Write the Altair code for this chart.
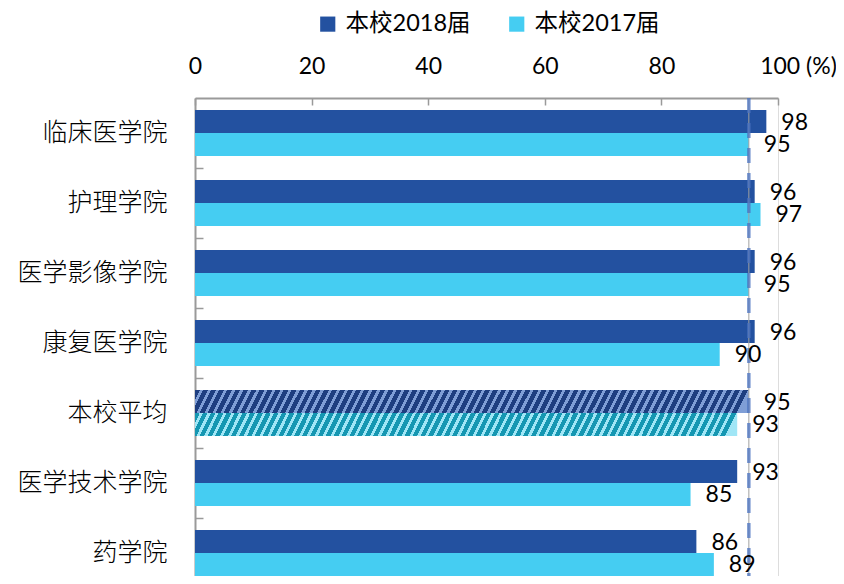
import altair as alt
import pandas as pd

categories = ["临床医学院", "护理学院", "医学影像学院", "康复医学院", "本校平均", "医学技术学院", "药学院"]
series = ["本校2018届", "本校2017届"]
v2018 = [98, 96, 96, 96, 95, 93, 86]
v2017 = [95, 97, 95, 90, 93, 85, 89]
avg_category = "本校平均"
x_ticks = [0, 20, 40, 60, 80, 100]

rows = []
for c, a, b in zip(categories, v2018, v2017):
    rows.append({"cat": c, "series": series[0], "value": a})
    rows.append({"cat": c, "series": series[1], "value": b})
df = pd.DataFrame(rows)

C18 = "#2351A0"
C17 = "#45CDF2"
GREY = "#9a9a9a"
NUM_FONT = "Lato, Noto Sans CJK SC"
CJK_FONT = "Noto Sans CJK SC"


def stripes(base, light, period_px=8.0, width_px=550.0, height_px=23.0, slant=0.5, frac=0.6):
    p = period_px / width_px
    stops = []
    k = 0
    while k * p < 1.0:
        a = k * p
        m = min((k + frac) * p, 1.0)
        e = min((k + 1) * p, 1.0)
        stops += [
            {"offset": round(a, 5), "color": base},
            {"offset": round(m, 5), "color": base},
            {"offset": round(m, 5), "color": light},
            {"offset": round(e, 5), "color": light},
        ]
        k += 1
    return {"gradient": "linear", "x1": 0, "y1": 0, "x2": 1,
            "y2": round(slant * height_px / width_px, 5), "stops": stops}


y_scale = alt.Scale(domain=categories, paddingInner=0.343, paddingOuter=0.1715)
yoff = alt.YOffset("series:N", scale=alt.Scale(domain=series, paddingInner=0, paddingOuter=0))
x_scale = alt.Scale(domain=[0, 100])

x_axis_main = alt.Axis(
    orient="top", values=x_ticks, ticks=False, grid=False, domain=True,
    domainColor=GREY, domainWidth=2, labelFont=NUM_FONT, labelFontSize=23,
    labelColor="#000000", labelPadding=20, labelFlush=False, title=None,
    labelExpr="datum.value == 100 ? datum.label + ' (%)' : datum.label",
    labelOffset={"condition": {"test": "datum.value == 100", "value": 20}, "value": 0},
)
x_axis_ticks = alt.Axis(
    orient="top", values=x_ticks, offset=-7, ticks=True, tickSize=7,
    tickColor=GREY, tickWidth=1.5, labels=False, domain=False, grid=False, title=None,
)
y_axis_main = alt.Axis(
    orient="left", ticks=False, domain=True, domainColor=GREY, domainWidth=2,
    labelFont=CJK_FONT, labelFontSize=25, labelFontWeight=300, labelColor="#000000",
    labelPadding=28, title=None, grid=False,
)
y_axis_ticks = alt.Axis(
    orient="left", offset=-8, ticks=True, tickSize=8, tickOffset=35,
    tickColor=GREY, tickWidth=1.5, labels=False, domain=False, grid=False, title=None,
)

base = alt.Chart(df)

bars = base.transform_filter(alt.datum.cat != avg_category).mark_bar().encode(
    x=alt.X("value:Q", scale=x_scale, axis=x_axis_main),
    y=alt.Y("cat:N", scale=y_scale, sort=categories, axis=y_axis_main),
    yOffset=yoff,
    color=alt.Color(
        "series:N",
        scale=alt.Scale(domain=series, range=[C18, C17]),
        legend=alt.Legend(
            orient="none", legendX=121, legendY=-86, direction="horizontal",
            title=None, symbolType="square", symbolSize=230, symbolStrokeWidth=0,
            labelFont=NUM_FONT, labelFontSize=23.5, labelColor="#000000",
            columnPadding=34, labelOffset=6,
        ),
    ),
)

avg18 = base.transform_filter(
    (alt.datum.cat == avg_category) & (alt.datum.series == series[0])
).mark_bar(fill=stripes("#1E3E80", "#7F9ED6")).encode(
    x=alt.X("value:Q", scale=x_scale, axis=None),
    y=alt.Y("cat:N", scale=y_scale, sort=categories, axis=None),
    yOffset=yoff,
)
avg17 = base.transform_filter(
    (alt.datum.cat == avg_category) & (alt.datum.series == series[1])
).mark_bar(fill=stripes("#1597B2", "#A0E6F6")).encode(
    x=alt.X("value:Q", scale=x_scale, axis=None),
    y=alt.Y("cat:N", scale=y_scale, sort=categories, axis=None),
    yOffset=yoff,
)

avg_src = base.transform_filter(
    (alt.datum.cat == avg_category) & (alt.datum.series == series[0])
)
rule_grey = avg_src.mark_rule(color="#a0a0a0", strokeWidth=1).encode(
    x=alt.X("value:Q", scale=x_scale, axis=None)
)
rule_dash = avg_src.mark_rule(color="#4A72C0", strokeWidth=3.5, strokeDash=[15, 10], opacity=0.75).encode(
    x=alt.X("value:Q", scale=x_scale, axis=None)
)

labels = base.mark_text(align="left", baseline="middle", dx=15, dy=1, font=NUM_FONT, fontSize=23, color="#000000").encode(
    x=alt.X("value:Q", scale=x_scale, axis=x_axis_ticks),
    y=alt.Y("cat:N", scale=y_scale, sort=categories, axis=y_axis_ticks),
    yOffset=yoff,
    text=alt.Text("value:Q"),
)

chart = alt.layer(bars, avg18, avg17, rule_grey, rule_dash, labels).resolve_axis(
    x="independent", y="independent"
).properties(
    width=583, height=490,
    padding={"left": 187, "top": 90, "right": 58, "bottom": -12},
    autosize=alt.AutoSizeParams(type="none"),
).configure_view(stroke=None).configure(background="white")

chart.save("out.html", embed_options={"renderer": "svg", "actions": False})
